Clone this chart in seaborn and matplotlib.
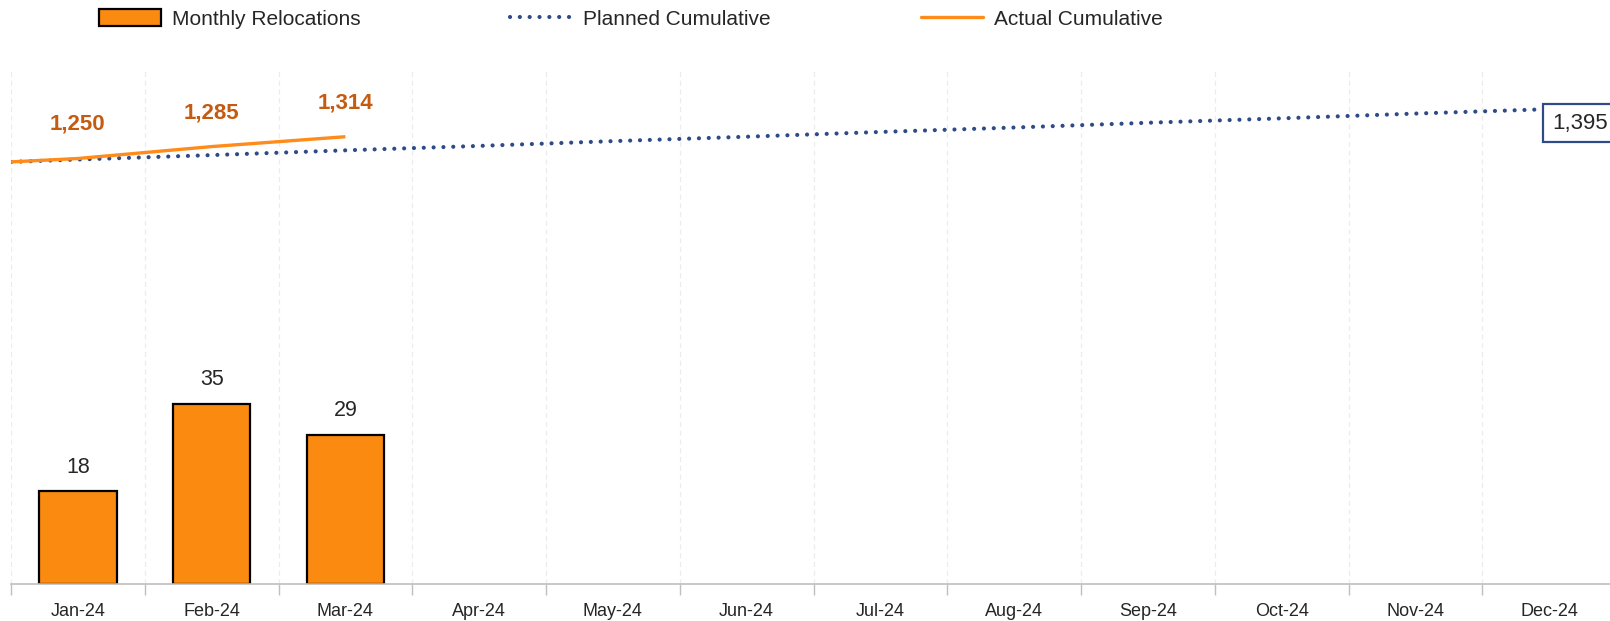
import numpy as np
import pandas as pd
import matplotlib
matplotlib.use('Agg')
import matplotlib.pyplot as plt
import seaborn as sns
from matplotlib.patches import Patch
from matplotlib.lines import Line2D

months = ['Jan-24', 'Feb-24', 'Mar-24', 'Apr-24', 'May-24', 'Jun-24',
          'Jul-24', 'Aug-24', 'Sep-24', 'Oct-24', 'Nov-24', 'Dec-24']
monthly_relocations = [18, 35, 29]
actual_cumulative = [1250, 1285, 1314]
planned_cumulative = [1247, 1260, 1274, 1287, 1301, 1314,
                      1328, 1341, 1355, 1368, 1382, 1395]
opening_cumulative = 1240

BAR_ORANGE = '#FB8A10'
LINE_ORANGE = '#FF8C1A'
LABEL_ORANGE = '#C55A11'
NAVY = '#2E4A87'
DOTS = (0, (0.01, 2.35))

sns.set_theme(style='white')
plt.rcParams['font.family'] = ['Liberation Sans', 'DejaVu Sans']

fig = plt.figure(figsize=(16.1, 6.21), dpi=100)
ax = fig.add_axes([11 / 1610, 37 / 621, 1605 / 1610, 514 / 621])

bars_df = pd.DataFrame({'Month': months[:len(monthly_relocations)],
                        'Relocations': monthly_relocations})
sns.barplot(data=bars_df, x='Month', y='Relocations', order=months,
            color=BAR_ORANGE, saturation=1, width=0.58,
            edgecolor='black', linewidth=1.6, ax=ax)
ax.set_ylim(0, 100)
ax.set_xlim(-0.5, len(months) - 0.5)

for i, v in enumerate(monthly_relocations):
    ax.annotate(f'{v}', (i, v), xytext=(0, 17.5), textcoords='offset points',
                ha='center', va='center', fontsize=15.5, color='#262626')

# category boundaries: minor ticks + light vertical grid
bounds = np.arange(-0.5, len(months), 1.0)
ax.set_xticks(bounds, minor=True)
ax.tick_params(axis='x', which='minor', length=8, width=1, color='#BFBFBF',
               direction='out', bottom=True)
ax.tick_params(axis='x', which='major', length=0, pad=14, labelsize=13,
               labelcolor='#262626')
for b in bounds:
    ax.axvline(b, color='#ECECEC', lw=0.9, ls=(0, (4, 3)), zorder=0)

ax.set_xlabel('')
ax.set_ylabel('')
ax.set_yticks([])
for side in ['top', 'right', 'left']:
    ax.spines[side].set_visible(False)
ax.spines['bottom'].set_color('#BFBFBF')
ax.spines['bottom'].set_linewidth(1.2)

# cumulative lines on secondary axis
ax2 = ax.twinx()
planned_df = pd.DataFrame({'x': [-0.5] + list(range(len(months))),
                           'y': [opening_cumulative] + planned_cumulative})
actual_df = pd.DataFrame({'x': [-0.5] + list(range(len(actual_cumulative))),
                          'y': [opening_cumulative] + actual_cumulative})
sns.lineplot(data=planned_df, x='x', y='y', ax=ax2, color=NAVY, lw=3,
             linestyle=DOTS, dash_capstyle='round')
sns.lineplot(data=actual_df, x='x', y='y', ax=ax2, color=LINE_ORANGE, lw=2.4,
             solid_capstyle='butt')
ax2.set_ylim(0, 1510)
ax2.set_xlim(-0.5, len(months) - 0.5)
ax2.set_yticks([])
ax2.set_xlabel('')
ax2.set_ylabel('')
for side in ['top', 'right', 'left', 'bottom']:
    ax2.spines[side].set_visible(False)

for i, v in enumerate(actual_cumulative):
    ax2.annotate(f'{v:,}', (i, v), xytext=(0, 24.5), textcoords='offset points',
                 ha='center', va='center', fontsize=16, fontweight='bold',
                 color=LABEL_ORANGE)

last = len(planned_cumulative) - 1
ax2.annotate(f'{planned_cumulative[last]:,}', (last, planned_cumulative[last]),
             xytext=(2, -10), textcoords='offset points', ha='left', va='center',
             fontsize=16, color='#262626', annotation_clip=False,
             bbox=dict(boxstyle='square,pad=0.4', fc='white', ec=NAVY, lw=1.6))

handles = [Patch(facecolor=BAR_ORANGE, edgecolor='black', linewidth=1.6),
           Line2D([], [], color=NAVY, lw=3, linestyle=DOTS, dash_capstyle='round'),
           Line2D([], [], color=LINE_ORANGE, lw=2.4)]
labels = ['Monthly Relocations', 'Planned Cumulative', 'Actual Cumulative']
fig.legend(handles, labels, loc='center left', bbox_to_anchor=(80 / 1610, 1 - 19 / 621),
           ncol=3, frameon=False, fontsize=15, handlelength=3.0, handleheight=0.85,
           handletextpad=0.5, columnspacing=7.2, labelcolor='#262626')

fig.savefig('out.png', dpi=100)
